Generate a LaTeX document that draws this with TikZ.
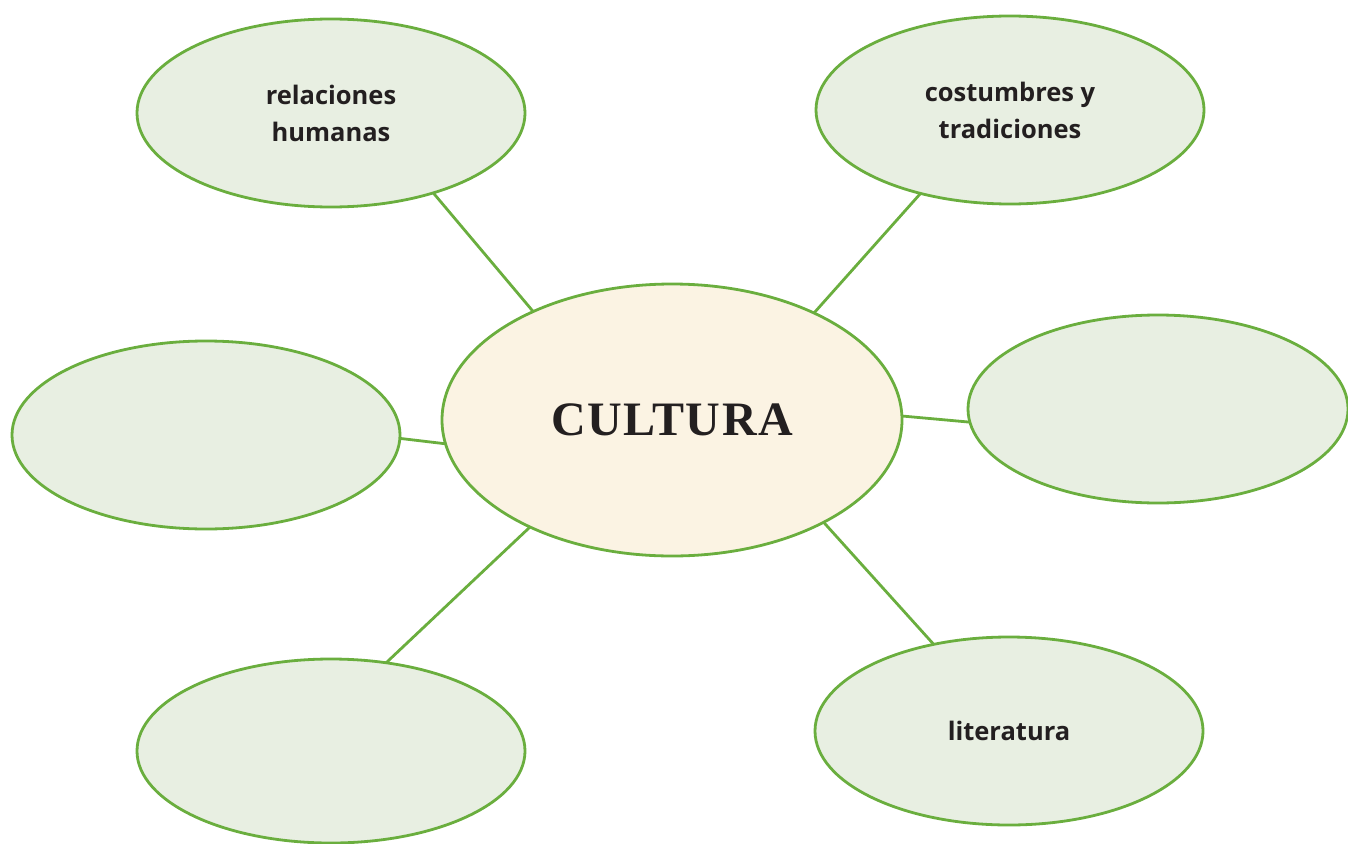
\documentclass[tikz,border=0pt]{standalone}
\usepackage{xcolor}
\usepackage{fontspec}
\usepackage{tikz}
\usetikzlibrary{shapes.geometric}
\setmainfont{Open Sans}
\newfontfamily\titlefont{Liberation Serif}[LetterSpace=3]
\definecolor{leaf}{HTML}{6AAE3E}
\definecolor{leaffill}{HTML}{E8EFE2}
\definecolor{corefill}{HTML}{FBF3E3}
\definecolor{ink}{HTML}{231F20}

\begin{document}
\begin{tikzpicture}[
  x=1pt, y=-1pt,
  bubble/.style={ellipse, draw=leaf, line width=2.8pt, fill=leaffill, inner sep=0pt, outer sep=0pt,
    minimum width=388pt, minimum height=188pt, align=center, text=ink,
    font=\fontsize{25.5}{37}\selectfont\bfseries},
  core/.style={ellipse, draw=leaf, line width=2.8pt, fill=corefill, inner sep=0pt, outer sep=0pt,
    minimum width=460pt, minimum height=272pt, text=ink,
    font=\fontsize{48}{50}\selectfont\titlefont\bfseries},
  link/.style={leaf, line width=2.8pt},
]
\useasboundingbox (0,0) rectangle (1348,843);

% centre
\node[core] (cultura) at (672,420) {CULTURA};

% satellites
\node[bubble] (rel)  at (331,113)  {relaciones\\humanas};
\node[bubble] (cos)  at (1010,110) {costumbres y\\tradiciones};
\node[bubble] (left) at (206,435)  {};
\node[bubble, minimum width=380pt] (right) at (1158,409) {};
\node[bubble, minimum height=184pt] (bl) at (331,751) {};
\node[bubble] (lit)  at (1009,731) {literatura};

% connectors
\draw[link] (cultura.142) -- (rel.-38.5);
\draw[link] (cultura.37.5) -- (cos.223.7);
\draw[link] (cultura.186) -- (left.-1.5);
\draw[link] (cultura.1.3) -- (right.184.2);
\draw[link] (cultura.217.8) -- (bl.58.3);
\draw[link] (cultura.-34.7) -- (lit.131.9);

\end{tikzpicture}
\end{document}
